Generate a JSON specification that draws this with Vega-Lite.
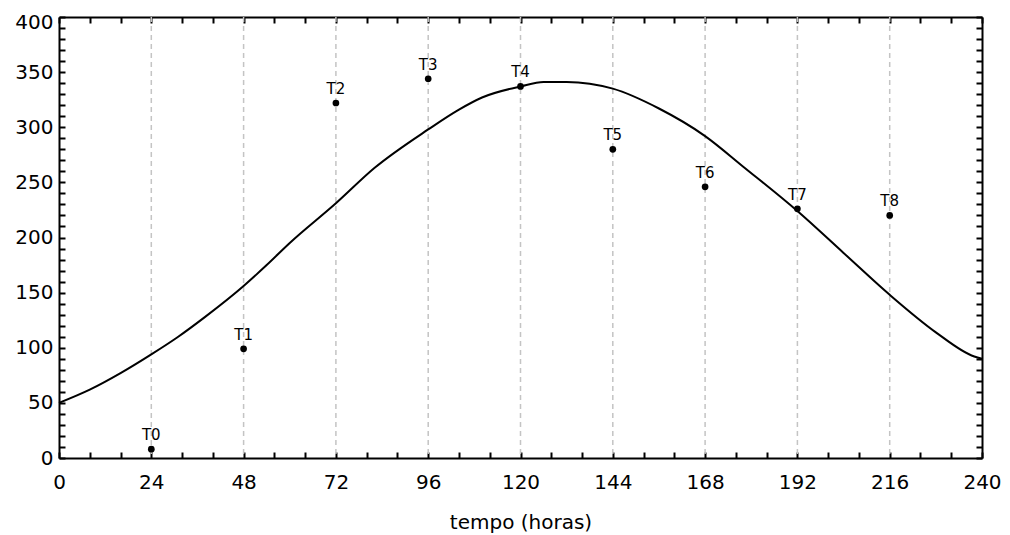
{
  "$schema": "https://vega.github.io/schema/vega-lite/v6.json",
  "width": 923,
  "height": 441,
  "autosize": "none",
  "padding": {"left": 59, "top": 17, "right": 28, "bottom": 77},
  "config": {
    "font": "DejaVu Sans",
    "view": {"stroke": null},
    "axis": {
      "domainColor": "black",
      "domainWidth": 2,
      "tickColor": "black",
      "tickWidth": 2,
      "tickSize": -6,
      "grid": false,
      "labelColor": "black",
      "labelFont": "DejaVu Sans",
      "labelFontSize": 20,
      "titleFont": "DejaVu Sans",
      "titleFontSize": 20,
      "titleFontWeight": "normal",
      "titleColor": "black"
    }
  },
  "datasets": {
    "grid": [{"t": 24}, {"t": 48}, {"t": 72}, {"t": 96}, {"t": 120}, {"t": 144}, {"t": 168}, {"t": 192}, {"t": 216}],
    "curve": [
      {"t": 0, "v": 50}, {"t": 8, "v": 62}, {"t": 16, "v": 77}, {"t": 24, "v": 94},
      {"t": 31, "v": 110}, {"t": 38, "v": 128}, {"t": 48, "v": 156}, {"t": 54, "v": 175},
      {"t": 60, "v": 195}, {"t": 72, "v": 231}, {"t": 82, "v": 263}, {"t": 96, "v": 298},
      {"t": 104, "v": 316}, {"t": 110, "v": 327}, {"t": 120, "v": 337}, {"t": 126, "v": 341},
      {"t": 132, "v": 341}, {"t": 138, "v": 339.5}, {"t": 144, "v": 335}, {"t": 156, "v": 317},
      {"t": 168, "v": 292}, {"t": 178, "v": 264}, {"t": 192, "v": 224}, {"t": 204, "v": 186},
      {"t": 216, "v": 148}, {"t": 228, "v": 114}, {"t": 238, "v": 92}, {"t": 240, "v": 90}
    ],
    "obs": [
      {"t": 24, "v": 8, "label": "T0"},
      {"t": 48, "v": 99, "label": "T1"},
      {"t": 72, "v": 322, "label": "T2"},
      {"t": 96, "v": 344, "label": "T3"},
      {"t": 120, "v": 337, "label": "T4"},
      {"t": 144, "v": 280, "label": "T5"},
      {"t": 168, "v": 246, "label": "T6"},
      {"t": 192, "v": 226, "label": "T7"},
      {"t": 216, "v": 220, "label": "T8"}
    ]
  },
  "layer": [
    {
      "data": {"name": "grid"},
      "mark": {"type": "rule", "color": "#c4c4c4", "strokeWidth": 1.5, "strokeDash": [5, 4]},
      "encoding": {
        "x": {"field": "t", "type": "quantitative", "scale": {"domain": [0, 240], "nice": false}, "axis": null}
      }
    },
    {
      "data": {"name": "curve"},
      "mark": {"type": "line", "color": "black", "strokeWidth": 2, "interpolate": "monotone"},
      "encoding": {
        "x": {
          "field": "t", "type": "quantitative",
          "scale": {"domain": [0, 240], "nice": false},
          "axis": {
            "orient": "bottom",
            "values": [0, 8, 16, 24, 32, 40, 48, 56, 64, 72, 80, 88, 96, 104, 112, 120, 128, 136, 144, 152, 160, 168, 176, 184, 192, 200, 208, 216, 224, 232, 240],
            "labelExpr": "datum.value % 24 === 0 ? datum.label : ''",
            "labelFlush": false,
            "labelPadding": 20,
            "title": "tempo (horas)",
            "titleBaseline": "alphabetic",
            "titleY": 70
          }
        },
        "y": {
          "field": "v", "type": "quantitative",
          "scale": {"domain": [0, 400], "nice": false},
          "axis": {
            "orient": "left",
            "values": [0, 10, 20, 30, 40, 50, 60, 70, 80, 90, 100, 110, 120, 130, 140, 150, 160, 170, 180, 190, 200, 210, 220, 230, 240, 250, 260, 270, 280, 290, 300, 310, 320, 330, 340, 350, 360, 370, 380, 390, 400],
            "labelExpr": "datum.value % 50 === 0 ? datum.label : ''",
            "labelPadding": 12,
            "labelOffset": {"condition": {"test": "datum.value === 400", "value": 5}, "value": 0},
            "title": null
          }
        }
      }
    },
    {
      "data": {"name": "obs"},
      "mark": {"type": "point", "filled": true, "color": "black", "size": 45, "opacity": 1},
      "encoding": {
        "x": {
          "field": "t", "type": "quantitative",
          "scale": {"domain": [0, 240], "nice": false},
          "axis": {
            "orient": "top",
            "values": [0, 8, 16, 24, 32, 40, 48, 56, 64, 72, 80, 88, 96, 104, 112, 120, 128, 136, 144, 152, 160, 168, 176, 184, 192, 200, 208, 216, 224, 232, 240],
            "labels": false,
            "title": null
          }
        },
        "y": {
          "field": "v", "type": "quantitative",
          "scale": {"domain": [0, 400], "nice": false},
          "axis": {
            "orient": "right",
            "values": [0, 10, 20, 30, 40, 50, 60, 70, 80, 90, 100, 110, 120, 130, 140, 150, 160, 170, 180, 190, 200, 210, 220, 230, 240, 250, 260, 270, 280, 290, 300, 310, 320, 330, 340, 350, 360, 370, 380, 390, 400],
            "labels": false,
            "title": null
          }
        }
      }
    },
    {
      "data": {"name": "obs"},
      "mark": {"type": "text", "font": "DejaVu Sans", "fontSize": 15, "color": "black", "align": "center", "baseline": "alphabetic", "dy": -9},
      "encoding": {
        "x": {"field": "t", "type": "quantitative", "scale": {"domain": [0, 240], "nice": false}, "axis": null},
        "y": {"field": "v", "type": "quantitative", "scale": {"domain": [0, 400], "nice": false}, "axis": null},
        "text": {"field": "label"}
      }
    }
  ],
  "resolve": {"axis": {"x": "independent", "y": "independent"}}
}
